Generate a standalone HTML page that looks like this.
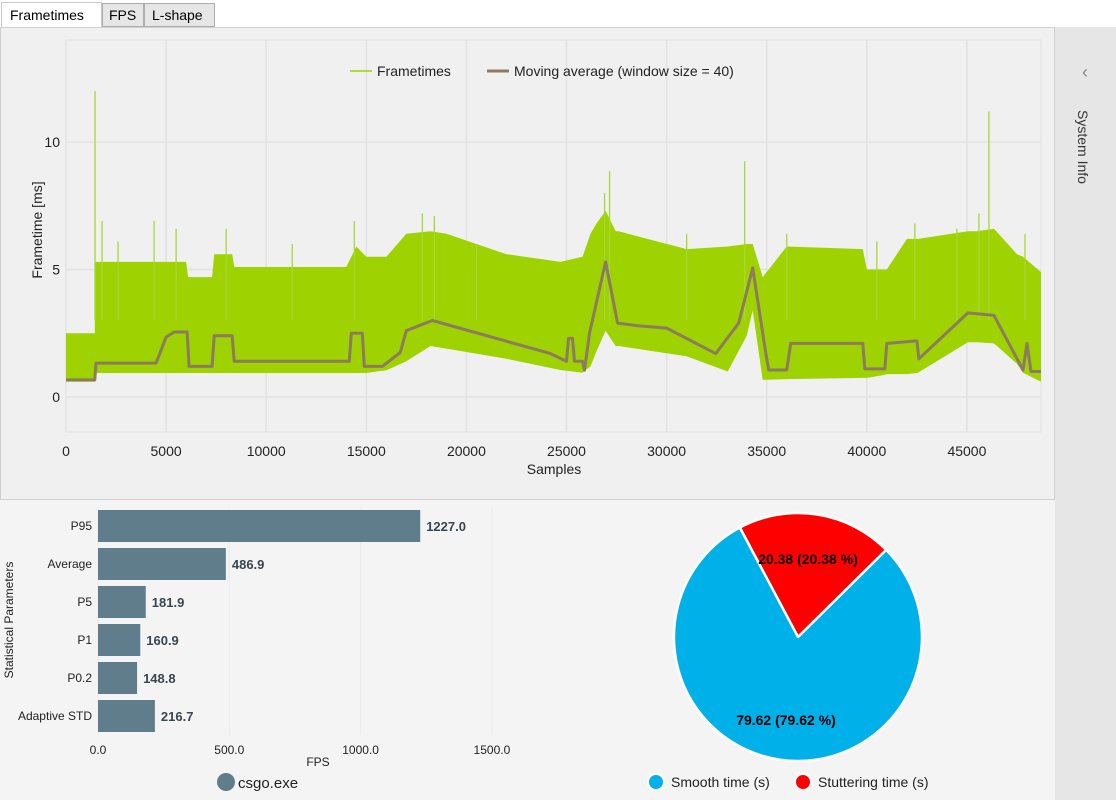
<!DOCTYPE html>
<html><head><meta charset="utf-8"><style>
html,body{margin:0;padding:0;background:#f4f4f4;font-family:"Liberation Sans",sans-serif;}
svg{display:block}
</style></head><body>
<svg id="root" width="1116" height="800" viewBox="0 0 1116 800" xmlns="http://www.w3.org/2000/svg" font-family="Liberation Sans, sans-serif">
<rect x="0" y="0" width="1116" height="800" fill="#f4f4f4"/>
<rect x="0" y="0" width="1116" height="27" fill="#ffffff"/>
<g><rect x="1.5" y="2.5" width="100" height="26" fill="#fff" stroke="#c8c8c8"/><text x="10" y="20" font-size="14" fill="#000">Frametimes</text></g>
<g><rect x="102.5" y="3.5" width="41" height="23" fill="#e6e6e6" stroke="#adadad"/><text x="109" y="20" font-size="14" fill="#000">FPS</text></g>
<g><rect x="144.5" y="3.5" width="70" height="23" fill="#e6e6e6" stroke="#adadad"/><text x="152" y="20" font-size="14" fill="#000">L-shape</text></g>
<rect x="0.5" y="27.5" width="1054" height="472" fill="#f0f0f0" stroke="#d0d0d0"/>
<rect x="1101" y="27" width="0" height="0"/>
<rect x="1055" y="27" width="61" height="773" fill="#e6e6e6"/>
<text x="1085" y="78" font-size="18" fill="#888" text-anchor="middle">‹</text>
<text transform="translate(1078,110) rotate(90)" font-size="14" fill="#333">System Info</text>
<g id="ft"></g>
<g id="bars"></g>
<g id="pie"></g>
</svg>
<script>
// ---------- Frametime chart data ----------
const envSamples = [0,1440,1460,3000,6000,6100,7300,7400,8300,8400,14000,14500,15000,16000,17000,18200,19000,22000,24700,25800,26200,26500,26950,27450,27600,31000,33050,34000,34300,34800,36000,39800,40000,40800,41000,42000,42550,45050,45500,46350,47500,47800,48700];
const envLow     = [0.6,0.6,0.94,0.94,0.94,0.94,0.94,0.94,0.94,0.94,0.94,0.94,0.94,1.05,1.4,2.0,1.9,1.5,1.06,0.95,1.2,1.8,2.6,2.0,2.0,1.6,1.0,2.4,3.4,0.67,0.7,0.75,0.75,0.85,0.9,0.9,0.95,2.15,2.15,2.1,1.3,0.95,0.6];
const envHigh    = [2.5,2.5,5.3,5.3,5.3,4.7,4.7,5.6,5.6,5.1,5.1,5.9,5.5,5.5,6.4,6.5,6.4,5.6,5.3,5.5,6.4,6.8,7.3,6.5,6.5,5.8,5.9,6.0,6.0,4.7,5.9,5.8,5.0,5.0,5.0,6.2,6.2,6.5,6.5,6.6,5.6,5.5,4.9];
const avgSamples = [0,1440,1500,4500,5000,5400,6050,6150,7300,7400,8300,8400,14150,14250,14800,14900,15800,16700,17000,18300,24200,25000,25100,25300,25400,25800,25900,26150,26950,27550,28500,30000,32450,33600,34300,35000,35100,36000,36200,39800,39900,40900,41000,42500,42600,45050,46350,47800,48000,48200,48700];
const avgValues  = [0.67,0.67,1.33,1.33,2.35,2.55,2.55,1.2,1.2,2.4,2.4,1.4,1.4,2.5,2.5,1.2,1.2,1.75,2.6,3.0,1.7,1.4,2.3,2.3,1.4,1.4,1.05,2.5,5.3,2.9,2.8,2.7,1.7,2.9,5.06,1.5,1.06,1.06,2.1,2.1,1.1,1.1,2.1,2.2,1.5,3.3,3.2,1.06,2.1,1.0,1.0];
const spikeSamples = [1450,1800,2600,4400,5500,8000,11300,14400,17800,18400,20500,26900,27150,31000,33900,36000,40500,42400,44500,45600,46100,47900];
const spikeValues  = [12.0,6.9,6.1,6.9,6.6,6.6,6.0,6.9,7.2,7.1,6.0,8.0,8.86,6.4,9.25,6.4,6.1,6.8,6.6,7.2,11.2,6.4];
const xTicks = [0,5000,10000,15000,20000,25000,30000,35000,40000,45000];
const yTicks = [0,5,10];

// ---------- Bar chart data ----------
const barCategories = ["P95","Average","P5","P1","P0.2","Adaptive STD"];
const barValues = [1227.0,486.9,181.9,160.9,148.8,216.7];
const barTicks = [0,500,1000,1500];

// ---------- Pie data ----------
const pieLabels = ["Stuttering time (s)","Smooth time (s)"];
const pieValues = [20.38,79.62];

const NS="http://www.w3.org/2000/svg";
function mk(parent,tag,attrs,text){const e=document.createElementNS(NS,tag);for(const k in attrs)e.setAttribute(k,attrs[k]);if(text!==undefined)e.textContent=text;parent.appendChild(e);return e;}

// Frametime chart
(function(){
  const g=document.getElementById('ft');
  const X0=66,X1=1041,Y0=397,pxPerMs=25.5;
  const xs=s=>X0+(s/48700)*(X1-X0);
  const ys=v=>Y0-v*pxPerMs;
  const pl=mk(g,'rect',{x:X0,y:40,width:X1-X0,height:392,fill:'#f0f0f0',stroke:'#e2e2e2'});
  
  
  xTicks.forEach(t=>{
    const l=mk(g,'line',{x1:xs(t),x2:xs(t),y1:40,y2:432,stroke:'#e2e2e2','stroke-width':1.5});
    
    
    const tx=mk(g,'text',{x:xs(t),y:456,'font-size':14,fill:'#222','text-anchor':'middle'},String(t));
    
    
  });
  yTicks.forEach(t=>{
    const l=mk(g,'line',{x1:X0,x2:X1,y1:ys(t),y2:ys(t),stroke:'#e2e2e2','stroke-width':1.5});
    
    
    const tx=mk(g,'text',{x:X0-6,y:ys(t)+5,'font-size':14,fill:'#222','text-anchor':'end'},String(t));
    
    
  });
  let d='';
  envSamples.forEach((s,i)=>{d+=(i?'L':'M')+xs(s).toFixed(1)+' '+ys(envHigh[i]).toFixed(1);});
  for(let i=envSamples.length-1;i>=0;i--){d+='L'+xs(envSamples[i]).toFixed(1)+' '+ys(envLow[i]).toFixed(1);}
  const band=mk(g,'path',{d:d+'Z',fill:'#9ed200'});
  
  
  spikeSamples.forEach((s,i)=>{
    const l=mk(g,'line',{x1:xs(s),x2:xs(s),y1:ys(3),y2:ys(spikeValues[i]),stroke:'#a8d63a','stroke-width':1.3});
    
    
  });
  let a='';
  avgSamples.forEach((s,i)=>{a+=(i?'L':'M')+xs(s).toFixed(1)+' '+ys(avgValues[i]).toFixed(1);});
  const av=mk(g,'path',{d:a,fill:'none',stroke:'#8c7b5f','stroke-width':3,'stroke-linejoin':'round'});
  
  
  const yt=mk(g,'text',{transform:'translate(42,230) rotate(-90)','font-size':14,fill:'#222','text-anchor':'middle'},'Frametime [ms]');
  
  
  const xt=mk(g,'text',{x:554,y:474,'font-size':14,fill:'#222','text-anchor':'middle'},'Samples');
  
  
  const lg1=mk(g,'g',{});
  
  
  mk(lg1,'line',{x1:350,x2:372,y1:71,y2:71,stroke:'#9ed200','stroke-width':1.5});
  mk(lg1,'text',{x:377,y:76,'font-size':14,fill:'#222'},'Frametimes');
  const lg2=mk(g,'g',{});
  
  
  mk(lg2,'line',{x1:487,x2:509,y1:71,y2:71,stroke:'#8c7b5f','stroke-width':3});
  mk(lg2,'text',{x:514,y:76,'font-size':14,fill:'#222'},'Moving average (window size = 40)');
})();

// Bar chart
(function(){
  const g=document.getElementById('bars');
  const X0=98,pxPer=131.3/500,TOP=510,PITCH=38,H=32;
  const xs=v=>X0+v*pxPer;
  barTicks.forEach(t=>{
    const l=mk(g,'line',{x1:xs(t),x2:xs(t),y1:508,y2:735,stroke:'#ebebeb'});
    
    
    const tx=mk(g,'text',{x:xs(t),y:754,'font-size':12,fill:'#222','text-anchor':'middle'},t.toFixed(1));
    
    
  });
  barCategories.forEach((c,i)=>{
    const y=TOP+i*PITCH;
    const r=mk(g,'rect',{x:X0,y:y,width:xs(barValues[i])-X0,height:H,fill:'#607d8b'});
    
    
    const lb=mk(g,'text',{x:92,y:y+H/2+4,'font-size':12,fill:'#222','text-anchor':'end'},c);
    
    
    const vl=mk(g,'text',{x:xs(barValues[i])+6,y:y+H/2+5,'font-size':13,'font-weight':'bold',fill:'#37474f'},barValues[i].toFixed(1));
    
    
  });
  const yt=mk(g,'text',{transform:'translate(13,620) rotate(-90)','font-size':12,fill:'#222','text-anchor':'middle'},'Statistical Parameters');
  
  
  const xt=mk(g,'text',{x:318,y:766,'font-size':12,fill:'#222','text-anchor':'middle'},'FPS');
  
  
  const lg=mk(g,'g',{});
  
  
  mk(lg,'circle',{cx:226,cy:782,r:9,fill:'#607d8b'});
  mk(lg,'text',{x:238,y:788,'font-size':15,fill:'#222'},'csgo.exe');
})();

// Pie chart
(function(){
  const g=document.getElementById('pie');
  const cx=798,cy=637,R=124;
  const colors=['#ff0000','#00b0e8'];
  const total=pieValues.reduce((a,b)=>a+b,0);
  let ang=-28*Math.PI/180;
  const labelPos=[[808,564],[786,725]];
  pieValues.forEach((v,i)=>{
    const sweep=v/total*2*Math.PI;
    const a0=ang,a1=ang+sweep;
    const p0=[cx+R*Math.sin(a0),cy-R*Math.cos(a0)],p1=[cx+R*Math.sin(a1),cy-R*Math.cos(a1)];
    const d=`M${cx} ${cy}L${p0[0].toFixed(1)} ${p0[1].toFixed(1)}A${R} ${R} 0 ${sweep>Math.PI?1:0} 1 ${p1[0].toFixed(1)} ${p1[1].toFixed(1)}Z`;
    const s=mk(g,'path',{d:d,fill:colors[i],stroke:'#ffffff','stroke-width':2.5,'stroke-linejoin':'round'});
    
    
    ang=a1;
  });
  pieValues.forEach((v,i)=>{
    const t=mk(g,'text',{x:labelPos[i][0],y:labelPos[i][1],'font-size':14,'font-weight':'bold',fill:'#000','text-anchor':'middle'},v.toFixed(2)+' ('+(v/total*100).toFixed(2)+' %)');
    
    
  });
  const l1=mk(g,'g',{});
  
  
  mk(l1,'circle',{cx:656,cy:782,r:8,fill:'#00b0e8',stroke:'#fff','stroke-width':2});
  mk(l1,'text',{x:671,y:787,'font-size':14,fill:'#222'},pieLabels[1]);
  const l2=mk(g,'g',{});
  
  
  mk(l2,'circle',{cx:803,cy:782,r:8,fill:'#ff0000',stroke:'#fff','stroke-width':2});
  mk(l2,'text',{x:818,y:787,'font-size':14,fill:'#222'},pieLabels[0]);
})();
</script>
</body></html>
